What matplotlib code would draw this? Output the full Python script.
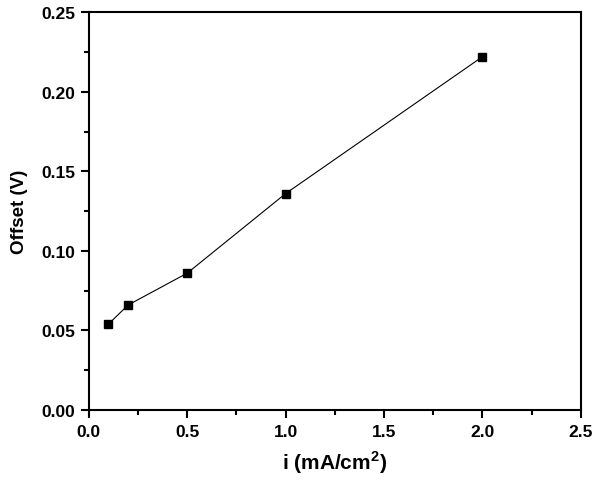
import matplotlib
matplotlib.use("Agg")
import matplotlib.pyplot as plt
from matplotlib.ticker import MultipleLocator

# data
current = [0.1, 0.2, 0.5, 1.0, 2.0]
offset = [0.054, 0.066, 0.086, 0.136, 0.222]

plt.rcParams['font.family'] = ['Liberation Sans', 'DejaVu Sans']
plt.rcParams['font.weight'] = 'bold'
plt.rcParams['mathtext.fontset'] = 'custom'
plt.rcParams['mathtext.rm'] = 'Liberation Sans:bold'
plt.rcParams['mathtext.bf'] = 'Liberation Sans:bold'

fig = plt.figure(figsize=(6, 4.89), dpi=100)
ax = fig.add_axes([0.148, 0.1595, 0.82, 0.8135])

ax.plot(current, offset, color="black", linewidth=0.8, marker="s",
        markersize=5.5, markerfacecolor="black", markeredgecolor="black")

ax.set_xlim(0, 2.5)
ax.set_ylim(0, 0.25)
ax.xaxis.set_major_locator(MultipleLocator(0.5))
ax.xaxis.set_minor_locator(MultipleLocator(0.25))
ax.yaxis.set_major_locator(MultipleLocator(0.05))
ax.yaxis.set_minor_locator(MultipleLocator(0.025))
ax.xaxis.set_major_formatter(plt.FormatStrFormatter('%.1f'))
ax.yaxis.set_major_formatter(plt.FormatStrFormatter('%.2f'))

for s in ax.spines.values():
    s.set_linewidth(1.5)
ax.tick_params(which='major', direction='out', length=6, width=1.5,
               labelsize=12.5, pad=4)
ax.tick_params(which='minor', direction='out', length=3.5, width=1.5)
ax.tick_params(top=False, right=False)
for lbl in ax.get_xticklabels() + ax.get_yticklabels():
    lbl.set_fontweight('bold')

ax.set_xlabel("i (mA/cm$^{\\mathrm{2}}$)", fontsize=15, fontweight='bold', labelpad=7)
ax.set_ylabel("Offset (V)", fontsize=13.5, fontweight='bold', labelpad=9)

fig.savefig("out.png", dpi=100)
